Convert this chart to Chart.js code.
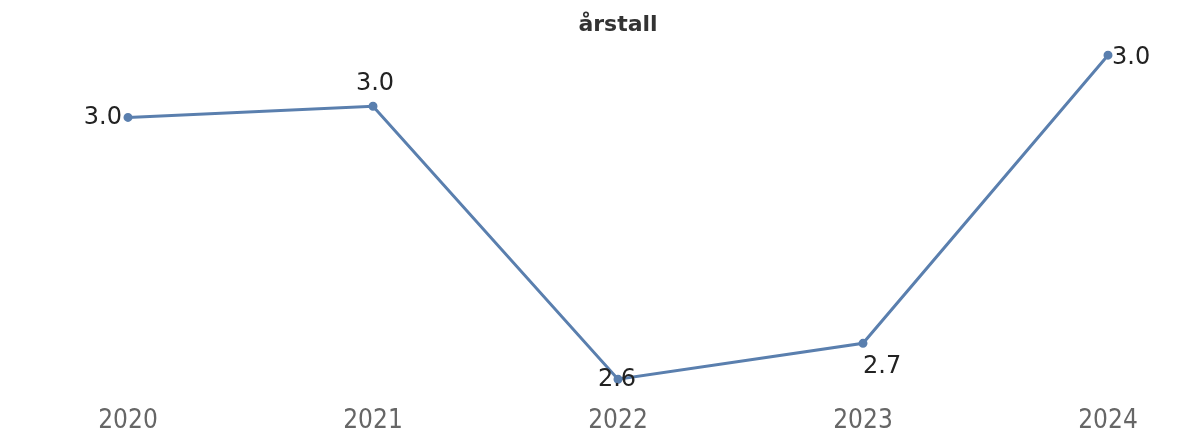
<!DOCTYPE html>
<html>
<head>
<meta charset="utf-8">
<script src="https://cdn.jsdelivr.net/npm/chart.js@4/dist/chart.umd.min.js"></script>
<style>
html,body{margin:0;padding:0;background:#fff;}
#wrap{width:1186px;height:436px;position:relative;}
</style>
</head>
<body>
<div id="wrap"><canvas id="c" width="1186" height="436"></canvas></div>
<script>
const categories = ["2020", "2021", "2022", "2023", "2024"];
const values = [2.958, 2.972, 2.630, 2.675, 3.036];
const valueLabels = ["3.0", "3.0", "2.6", "2.7", "3.0"];
const axisTitle = "årstall";

// label placement relative to each point: [dx, dy, align]
const labelPlacement = [[-6, 0, "right"], [2, -22, "center"], [-1, 1, "center"], [0, 23, "left"], [4, 3, "left"]];

const labelPlugin = {
  id: "valueLabels",
  afterDatasetsDraw(chart) {
    const ctx = chart.ctx;
    const meta = chart.getDatasetMeta(0);
    ctx.save();
    ctx.font = "24px 'DejaVu Sans'";
    ctx.fillStyle = "#222";
    ctx.textBaseline = "middle";
    meta.data.forEach((pt, i) => {
      const p = labelPlacement[i];
      ctx.textAlign = p[2];
      ctx.fillText(valueLabels[i], pt.x + p[0], pt.y + p[1]);
    });
    ctx.restore();
  }
};

new Chart(document.getElementById("c"), {
  type: "line",
  data: {
    labels: categories,
    datasets: [{
      data: values,
      borderColor: "#5a7fae",
      backgroundColor: "#5a7fae",
      borderWidth: 3,
      pointRadius: 3,
      pointHoverRadius: 3,
      tension: 0
    }]
  },
  options: {
    responsive: false,
    animation: false,
    layout: { padding: { left: 128, right: 78, top: 4, bottom: 0 } },
    plugins: {
      legend: { display: false },
      tooltip: { enabled: false },
      title: {
        display: true,
        text: axisTitle,
        fullSize: false,
        color: "#333",
        font: { family: "'DejaVu Sans'", size: 22, weight: "bold" },
        padding: { top: 8, bottom: 8 }
      }
    },
    scales: {
      x: {
        offset: false,
        grid: { display: false },
        border: { display: false },
        afterFit(scale) { scale.height = 40; },
        ticks: { color: "#666", font: { family: "'DejaVu Sans Condensed'", size: 26 }, padding: 2, maxRotation: 0 }
      },
      y: {
        display: false,
        min: 2.609,
        max: 3.047
      }
    }
  },
  plugins: [labelPlugin]
});
</script>
</body>
</html>
